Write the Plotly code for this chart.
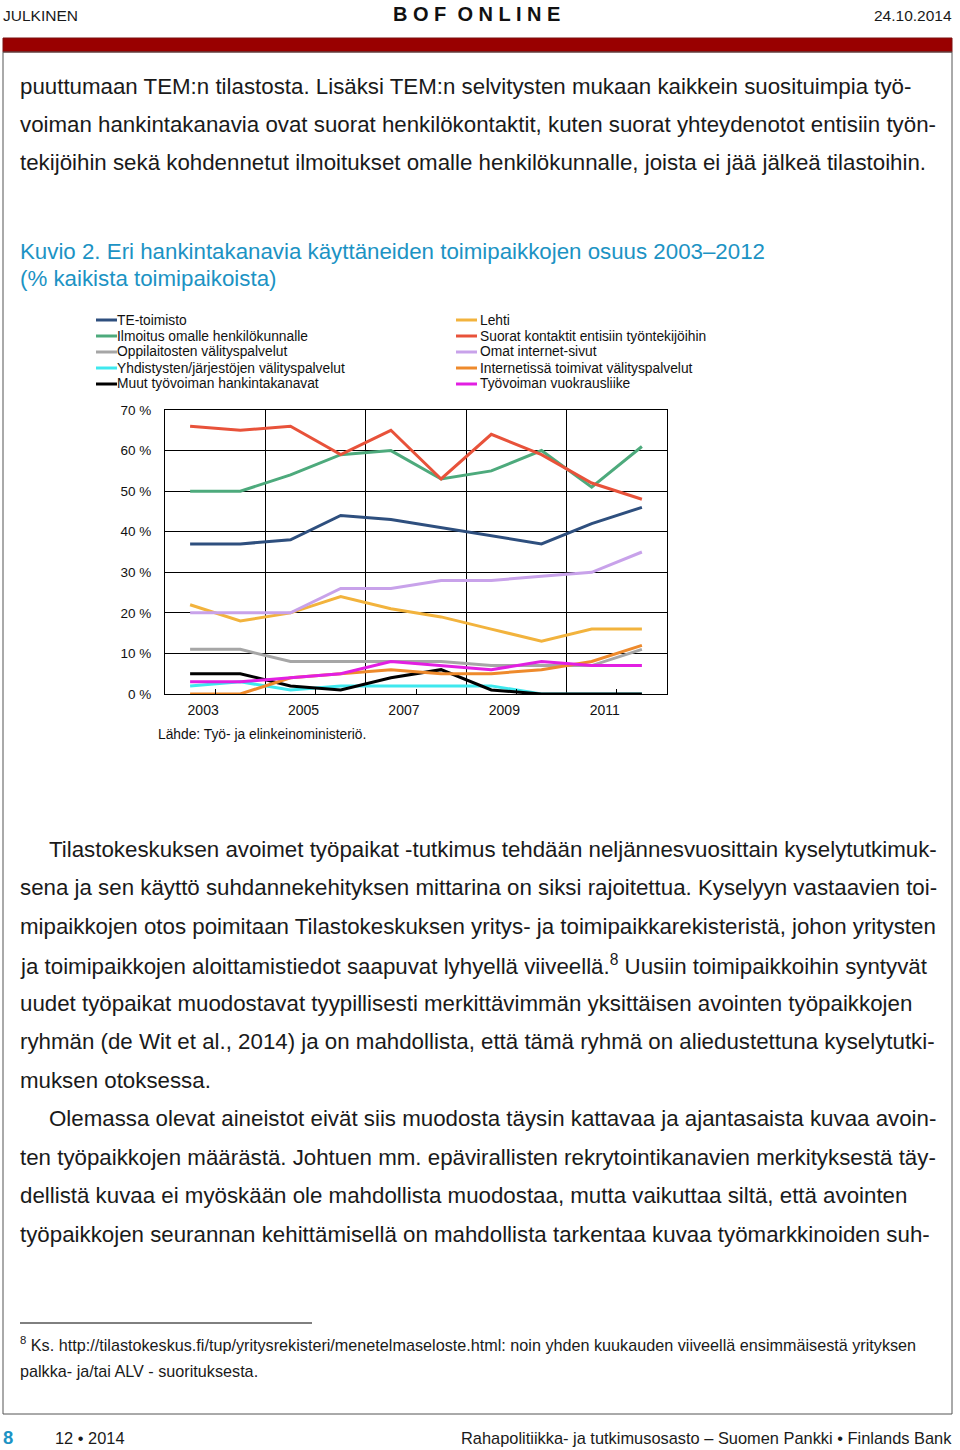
import plotly.graph_objects as go

# data (Kuvio 2), % of all workplaces
years = [2003, 2004, 2005, 2006, 2007, 2008, 2009, 2010, 2011, 2012]
label_years = [2003, 2005, 2007, 2009, 2011]

te_toimisto = [37, 37, 38, 44, 43, 41, 39, 37, 42, 46]
ilmoitus = [50, 50, 54, 59, 60, 53, 55, 60, 51, 61]
oppilaitos = [11, 11, 8, 8, 8, 8, 7, 7, 7, 11]
yhdistys = [2, 3, 1, 2, 2, 2, 2, 0, 0, 0]
muut = [5, 5, 2, 1, 4, 6, 1, 0, 0, 0]
lehti = [22, 18, 20, 24, 21, 19, 16, 13, 16, 16]
suorat = [66, 65, 66, 59, 65, 53, 64, 59, 52, 48]
omat_sivut = [20, 20, 20, 26, 26, 28, 28, 29, 30, 35]
internet_palvelut = [0, 0, 4, 5, 6, 5, 5, 6, 8, 12]
vuokraus = [3, 3, 4, 5, 8, 7, 6, 8, 7, 7]

names_left = ["TE-toimisto", "Ilmoitus omalle henkilökunnalle", "Oppilaitosten välityspalvelut",
              "Yhdistysten/järjestöjen välityspalvelut", "Muut työvoiman hankintakanavat"]
names_right = ["Lehti", "Suorat kontaktit entisiin työntekijöihin", "Omat internet-sivut",
               "Internetissä toimivat välityspalvelut", "Työvoiman vuokrausliike"]
colors_left = ["#2E4F7E", "#4DAA7C", "#A6A6A6", "#3FE8EE", "#000000"]
colors_right = ["#F2B33D", "#E8523A", "#C8A2EA", "#EE8A2C", "#E21FE2"]
values_left = [te_toimisto, ilmoitus, oppilaitos, yhdistys, muut]
values_right = [lehti, suorat, omat_sivut, internet_palvelut, vuokraus]

para1 = [
    "puuttumaan TEM:n tilastosta. Lisäksi TEM:n selvitysten mukaan kaikkein suosituimpia työ-",
    "voiman hankintakanavia ovat suorat henkilökontaktit, kuten suorat yhteydenotot entisiin työn-",
    "tekijöihin sekä kohdennetut ilmoitukset omalle henkilökunnalle, joista ei jää jälkeä tilastoihin.",
]
para2 = [
    "Tilastokeskuksen avoimet työpaikat -tutkimus tehdään neljännesvuosittain kyselytutkimuk-",
    "sena ja sen käyttö suhdannekehityksen mittarina on siksi rajoitettua. Kyselyyn vastaavien toi-",
    "mipaikkojen otos poimitaan Tilastokeskuksen yritys- ja toimipaikkarekisteristä, johon yritysten",
    "ja toimipaikkojen aloittamistiedot saapuvat lyhyellä viiveellä.<sup>8</sup> Uusiin toimipaikkoihin syntyvät",
    "uudet työpaikat muodostavat tyypillisesti merkittävimmän yksittäisen avointen työpaikkojen",
    "ryhmän (de Wit et al., 2014) ja on mahdollista, että tämä ryhmä on aliedustettuna kyselytutki-",
    "muksen otoksessa.",
    "Olemassa olevat aineistot eivät siis muodosta täysin kattavaa ja ajantasaista kuvaa avoin-",
    "ten työpaikkojen määrästä. Johtuen mm. epävirallisten rekrytointikanavien merkityksestä täy-",
    "dellistä kuvaa ei myöskään ole mahdollista muodostaa, mutta vaikuttaa siltä, että avointen",
    "työpaikkojen seurannan kehittämisellä on mahdollista tarkentaa kuvaa työmarkkinoiden suh-",
]
indented = {0, 7}

W, H = 960, 1450
FONT = "Liberation Sans, Arial, sans-serif"
BLUE = "#1C93C4"
TEXT = "#1a1a1a"


def px(x):
    return x / W


def py(y):
    return 1 - y / H


fig = go.Figure()
for name, col, vals in zip(names_left + names_right, colors_left + colors_right, values_left + values_right):
    fig.add_trace(go.Scatter(x=years, y=vals, name=name, mode="lines",
                             line=dict(color=col, width=3), showlegend=False))
# invisible trace on the label axis
fig.add_trace(go.Scatter(x=years, y=[None] * len(years), xaxis="x2", showlegend=False, hoverinfo="skip"))

annotations = []
shapes = []


def text(x, y, s, size, color=TEXT, anchor="left"):
    # annotation boxes add ~2px padding, compensate
    x = x - 2 if anchor == "left" else (x + 2 if anchor == "right" else x)
    annotations.append(dict(x=px(x), y=py(y), xref="paper", yref="paper", text=s, showarrow=False,
                            xanchor=anchor, yanchor="middle", font=dict(size=size, color=color, family=FONT)))


# header
text(3, 15, "JULKINEN", 15.5)
text(476, 14, "<b>B O F  O N L I N E</b>", 20, color="#111111", anchor="center")
text(952, 15, "24.10.2014", 15.5, anchor="right")
shapes.append(dict(type="rect", xref="paper", yref="paper", x0=px(3), x1=px(952), y0=py(52), y1=py(38),
                   fillcolor="#990000", line=dict(color="#7a1010", width=1)))
# page frame
shapes.append(dict(type="rect", xref="paper", yref="paper", x0=px(3), x1=px(952), y0=py(1414), y1=py(52),
                   line=dict(color="#555555", width=1)))

for i, s in enumerate(para1):
    text(20, 86 + i * 38.5, s, 22.3)
for i, s in enumerate(para2):
    text(49 if i in indented else 20, 849 + i * 38.5, s, 22.3)

# chart title
text(20, 252, "Kuvio 2. Eri hankintakanavia käyttäneiden toimipaikkojen osuus 2003–2012", 22.3, color=BLUE)
text(20, 278, "(% kaikista toimipaikoista)", 22.3, color=BLUE)

# legend in two columns
for col_names, col_colors, lx, tx in [(names_left, colors_left, 96, 117), (names_right, colors_right, 456, 480)]:
    for i, (n, c) in enumerate(zip(col_names, col_colors)):
        yy = 320 + i * 16
        shapes.append(dict(type="line", xref="paper", yref="paper", x0=px(lx), x1=px(lx + 21),
                           y0=py(yy), y1=py(yy), line=dict(color=c, width=3)))
        text(tx, yy, n, 13.8, color="#111111")

text(158, 734, "Lähde: Työ- ja elinkeinoministeriö.", 13.8, color="#111111")

# footnote
shapes.append(dict(type="line", xref="paper", yref="paper", x0=px(20), x1=px(312), y0=py(1323), y1=py(1323),
                   line=dict(color="#000000", width=1)))
text(20, 1344, "<sup>8</sup> Ks. http://tilastokeskus.fi/tup/yritysrekisteri/menetelmaseloste.html: noin yhden kuukauden viiveellä ensimmäisestä yrityksen", 16.2)
text(20, 1371, "palkka- ja/tai ALV - suorituksesta.", 16.2)

# footer
text(3, 1437, "<b>8</b>", 18.5, color=BLUE)
text(55, 1438, "12 • 2014", 16.4)
text(952, 1438, "Rahapolitiikka- ja tutkimusosasto – Suomen Pankki • Finlands Bank", 16.4, anchor="right")

dom_x = [px(165), px(667)]
dom_y = [py(694), py(410)]

fig.update_layout(
    template="none",
    width=W, height=H,
    margin=dict(l=0, r=0, t=0, b=0, pad=0, autoexpand=False),
    paper_bgcolor="white", plot_bgcolor="white",
    annotations=annotations, shapes=shapes,
    xaxis=dict(domain=dom_x, range=[2002.5, 2012.5], tickvals=[2003.5, 2005.5, 2007.5, 2009.5, 2011.5],
               showticklabels=False, ticks="inside", ticklen=5, tickcolor="#000000", showgrid=False,
               minor=dict(tick0=2004.5, dtick=2, showgrid=True, gridcolor="#000000", gridwidth=1),
               showline=True, linecolor="#000000", linewidth=1, mirror=True, zeroline=False,
               automargin=False, fixedrange=True),
    xaxis2=dict(overlaying="x", anchor="y", side="bottom", range=[2002.5, 2012.5],
                tickvals=[y + 0.26 for y in label_years], ticktext=[str(y) for y in label_years],
                showgrid=False, ticks="", showline=False, zeroline=False, automargin=False,
                tickfont=dict(family=FONT, size=14, color="#111111"), ticklabelstandoff=6),
    yaxis=dict(domain=dom_y, range=[0, 70], dtick=10, ticksuffix=" %", showgrid=True, gridcolor="#000000",
               gridwidth=1, showline=True, linecolor="#000000", linewidth=1, mirror=True, zeroline=False,
               ticks="", ticklabelstandoff=10, automargin=False,
               tickfont=dict(family=FONT, size=13.5, color="#111111")),
)

page_css = ("var h=document.documentElement;h.style.margin='0';h.style.padding='0';h.style.overflow='hidden';"
            "document.body.style.margin='0';document.body.style.padding='0';document.body.style.overflow='hidden';")
fig.write_html("out.html", config={"displayModeBar": False}, post_script=page_css)
